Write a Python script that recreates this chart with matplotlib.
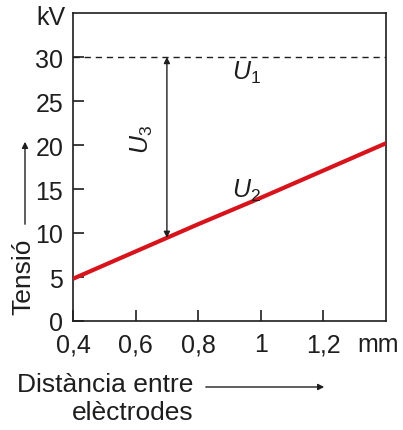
import numpy as np
import matplotlib
matplotlib.use("Agg")
import matplotlib.pyplot as plt

# data
distance = [0.4, 0.6, 0.8, 1.0, 1.2, 1.4]        # mm
u2 = [4.8, 7.9, 11.0, 14.0, 17.1, 20.2]          # kV, breakdown voltage
u1 = 30                                           # kV, applied voltage
u3_at = 0.7                                       # mm, where U3 is shown

x_ticks = [0.4, 0.6, 0.8, 1.0, 1.2]
x_labels = ["0,4", "0,6", "0,8", "1", "1,2"]
y_ticks = [0, 5, 10, 15, 20, 25, 30]

plt.rcParams['font.family'] = ['Liberation Sans', 'DejaVu Sans']
plt.rcParams['mathtext.fontset'] = 'custom'
plt.rcParams['mathtext.it'] = 'Liberation Sans:italic'
plt.rcParams['mathtext.rm'] = 'Liberation Sans'

INK = "#1e1e1e"
W, H = 403, 431
fig = plt.figure(figsize=(W/100, H/100), dpi=100)
ax = fig.add_axes([73/W, (H-322)/H, 313/W, 308/H])

ax.set_xlim(0.4, 1.4)
ax.set_ylim(0, 35)
for s in ax.spines.values():
    s.set_linewidth(1.2)
    s.set_color(INK)

ax.plot(distance, u2, color="#d7141c", lw=3.0, solid_capstyle="butt", zorder=3)
ax.axhline(u1, color=INK, lw=1.0, ls=(0, (4.5, 3.5)))

u2_at = np.interp(u3_at, distance, u2)
ax.annotate("", xy=(u3_at, u2_at), xytext=(u3_at, u1),
            arrowprops=dict(arrowstyle="<|-|>", color=INK, lw=1.0,
                            mutation_scale=9, shrinkA=0, shrinkB=0))

ax.text(0.955, 28.3, r"$U_1$", fontsize=18, ha="center", va="center", color=INK)
ax.text(0.62, 20.7, r"$U_3$", fontsize=18, ha="center", va="center",
        rotation=90, color=INK)
ax.text(0.955, 14.9, r"$U_2$", fontsize=18, ha="center", va="center", color=INK)

ax.set_xticks(x_ticks)
ax.set_xticklabels(x_labels)
ax.set_yticks(y_ticks)
ax.tick_params(direction="in", length=8, width=1.2, labelsize=18,
               colors=INK, pad=7)
ax.tick_params(axis="x", pad=8)

# unit labels at the axis ends
ax.annotate("mm", xy=(1.374, 0), xycoords=("data", "axes fraction"),
            xytext=(0, -8), textcoords="offset points", fontsize=18,
            ha="center", va="top", color=INK)
fig.text(65/W, 1-18/H, "kV", fontsize=18, ha="right", va="center", color=INK)

fig.text(23/W, 1-277/H, "Tensió", fontsize=19, rotation=90, ha="center",
         va="center", color=INK)
fig.add_artist(matplotlib.patches.FancyArrowPatch(
    (25/W, 1-228/H), (25/W, 1-140/H), transform=fig.transFigure,
    arrowstyle="-|>", mutation_scale=9, color=INK, lw=1.0))

fig.text(17/W, 1-385/H, "Distància entre", fontsize=19, ha="left",
         va="center", color=INK)
fig.text(133/W, 1-413/H, "elèctrodes", fontsize=19, ha="center",
         va="center", color=INK)
fig.add_artist(matplotlib.patches.FancyArrowPatch(
    (203/W, 1-388/H), (327/W, 1-388/H), transform=fig.transFigure,
    arrowstyle="-|>", mutation_scale=9, color=INK, lw=1.0))

fig.savefig("out.png", dpi=100)
